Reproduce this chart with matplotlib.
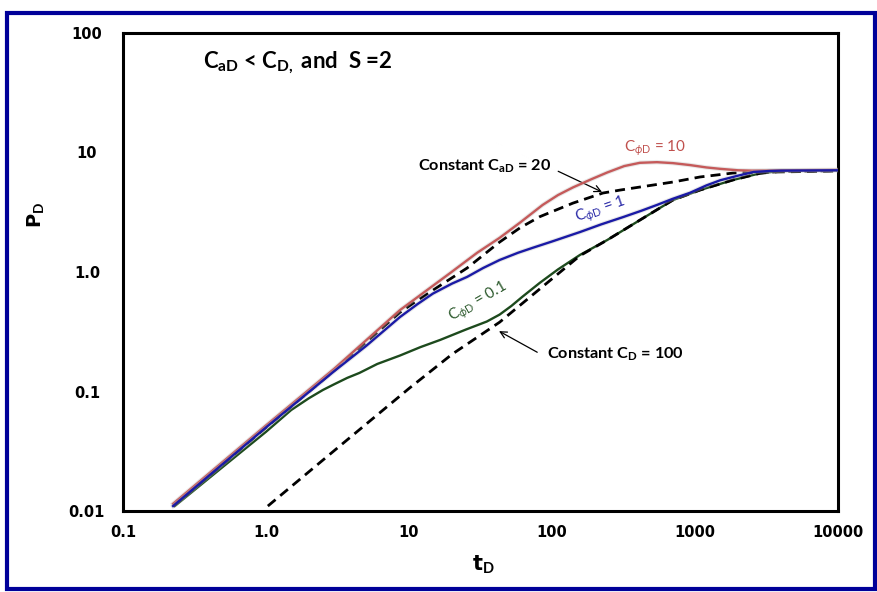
import matplotlib
matplotlib.use("Agg")
import matplotlib.pyplot as plt
import matplotlib.patheffects as pe
from matplotlib.patches import Rectangle
from matplotlib.ticker import NullLocator

plt.rcParams['font.family'] = ['Lato', 'DejaVu Sans']
plt.rcParams['mathtext.fontset'] = 'custom'
plt.rcParams['mathtext.rm'] = 'Lato'
plt.rcParams['mathtext.bf'] = 'Lato:bold'
plt.rcParams['mathtext.it'] = 'Lato:italic'

# dimensionless time / pressure
t_phi10 = [0.224, 1, 3, 8.65, 19.4, 30, 43, 60, 86, 110, 140, 190, 243, 320, 412, 542,
           700, 922, 1200, 1500, 2000, 2500, 4000, 10000]
p_phi10 = [0.0115, 0.052, 0.155, 0.48, 0.98, 1.45, 1.93, 2.6, 3.64, 4.4, 5.1, 6.0, 6.8, 7.7, 8.2, 8.3,
           8.15, 7.85, 7.5, 7.3, 7.1, 7.05, 7.1, 7.15]

t_phi1 = [0.224, 1, 3, 5, 8.65, 11.5, 14.7, 20, 25.5, 33, 43, 58, 74, 100, 157, 220, 314, 420,
          542, 700, 922, 1200, 1497, 2000, 2570, 3300, 4000, 10000]
p_phi1 = [0.011, 0.05, 0.148, 0.24, 0.42, 0.54, 0.66, 0.80, 0.91, 1.08, 1.26, 1.45, 1.6, 1.8, 2.16, 2.5, 2.88, 3.25,
          3.64, 4.1, 4.6, 5.3, 5.85, 6.4, 6.87, 7.0, 7.05, 7.1]

t_phi01 = [0.23, 0.6, 1.0, 1.5, 2.0, 2.5, 3.0, 3.7, 4.5, 6, 8.65, 12, 16.5, 25, 35, 43, 52, 62, 82,
           110, 157, 243, 412, 701, 1084, 1845, 2850, 3930, 6000, 10000]
p_phi01 = [0.011, 0.028, 0.046, 0.07, 0.088, 0.103, 0.115, 0.13, 0.143, 0.17, 0.20, 0.235, 0.27, 0.33, 0.385, 0.44, 0.52, 0.62, 0.81,
           1.05, 1.39, 1.85, 2.72, 4.0, 4.85, 5.89, 6.7, 7.0, 7.08, 7.1]

t_cd100 = [1.03, 3, 10, 20, 43, 82, 120, 157, 243, 412, 701, 1084, 1845, 2850, 3930, 10000]
p_cd100 = [0.011, 0.032, 0.106, 0.205, 0.38, 0.72, 1.05, 1.37, 1.85, 2.72, 4.0, 4.85, 5.89, 6.7, 6.95, 7.05]

t_cad20 = [0.224, 1, 3, 8.65, 12, 17.3, 25.5, 43, 60, 82, 110, 140, 227, 300, 412, 701, 1084, 1845, 3100, 10000]
p_cad20 = [0.011, 0.05, 0.15, 0.46, 0.6, 0.8, 1.08, 1.78, 2.35, 2.9, 3.35, 3.77, 4.58, 4.85, 5.14, 5.66, 6.24, 6.73, 6.85, 7.0]

xticks = [0.1, 1, 10, 100, 1000, 10000]
xtick_labels = ['0.1', '1.0', '10', '100', '1000', '10000']
yticks = [0.01, 0.1, 1, 10, 100]
ytick_labels = ['0.01', '0.1', '1.0', '10', '100']

fig = plt.figure(figsize=(8.78, 5.92), dpi=100)
ax = fig.add_axes([123 / 878, 81 / 592, 715 / 878, 478 / 592])

glow = [pe.Stroke(linewidth=3.2, foreground='#bbbbbb', alpha=0.35), pe.Normal()]

ax.plot(t_phi01, p_phi01, color='#1d4a1d', lw=1.7, zorder=3)
ax.plot(t_cd100, p_cd100, color='black', lw=2.0, linestyle=(0, (3.6, 2.2)), zorder=4)
ax.plot(t_cad20, p_cad20, color='black', lw=2.0, linestyle=(0, (3.6, 2.2)), zorder=4)
ax.plot(t_phi10, p_phi10, color='#c55a5a', lw=1.7, zorder=5, path_effects=glow)
ax.plot(t_phi1, p_phi1, color='#1a1aa6', lw=1.7, zorder=6, path_effects=glow)

ax.set_xscale('log')
ax.set_yscale('log')
ax.set_xlim(0.1, 10000)
ax.set_ylim(0.01, 100)

ax.set_xticks(xticks)
ax.set_xticklabels(xtick_labels, fontfamily='DejaVu Sans', fontweight='bold', fontsize=10.5)
ax.set_yticks(yticks)
ax.set_yticklabels(ytick_labels, fontfamily='DejaVu Sans', fontweight='bold', fontsize=10.5,
                   ha='center')
ax.xaxis.set_minor_locator(NullLocator())
ax.yaxis.set_minor_locator(NullLocator())
ax.tick_params(axis='both', length=0)
ax.tick_params(axis='x', pad=10)
ax.tick_params(axis='y', pad=26)

for s in ax.spines.values():
    s.set_linewidth(2.2)
    s.set_color('black')

# header and curve labels
ax.text(0.112, 0.939, r'C$_\mathbf{aD}$ < C$_\mathbf{D,}$ and  S =2', transform=ax.transAxes,
        fontsize=16, fontweight='bold', ha='left', va='center')

ax.annotate(r'Constant C$_\mathbf{aD}$ = 20', xy=(224, 4.67), xytext=(11.6, 7.7),
            fontsize=11.7, fontweight='bold', ha='left', va='center',
            arrowprops=dict(arrowstyle='->', color='black', lw=0.9,
                            shrinkA=0, shrinkB=0, relpos=(1.05, 0.2)))
ax.annotate(r'Constant C$_\mathbf{D}$ = 100', xy=(42.6, 0.32), xytext=(92, 0.206),
            fontsize=11.7, fontweight='bold', ha='left', va='center',
            arrowprops=dict(arrowstyle='->', color='black', lw=0.9,
                            shrinkA=0, shrinkB=0, relpos=(-0.07, 0.6)))

ax.text(525, 10.9, r'C$_{\phi\mathrm{D}}$ = 10', color='#c0504d', fontsize=11,
        ha='center', va='center')
ax.text(220, 3.3, r'C$_{\phi\mathrm{D}}$ = 1', color='#2a2aa8', fontsize=11,
        ha='center', va='center', rotation=19)
ax.text(30.4, 0.56, r'C$_{\phi\mathrm{D}}$ = 0.1', color='#2d5a2d', fontsize=11,
        ha='center', va='center', rotation=30)

fig.text(483 / 878, 1 - 565 / 592, r't$_\mathbf{D}$', fontsize=15, fontweight='bold',
         fontfamily='DejaVu Sans', ha='center', va='center')
fig.text(35 / 878, 1 - 215 / 592, r'P$_\mathbf{D}$', fontsize=14, fontweight='bold',
         fontfamily='DejaVu Sans', ha='center', va='center', rotation=90)

# navy frame around the whole figure
fig.patches.append(Rectangle((7 / 878, 3.5 / 592), 868 / 878, 576 / 592,
                             transform=fig.transFigure, fill=False,
                             edgecolor='#000099', lw=3.0))

fig.savefig('out.png', dpi=100)
